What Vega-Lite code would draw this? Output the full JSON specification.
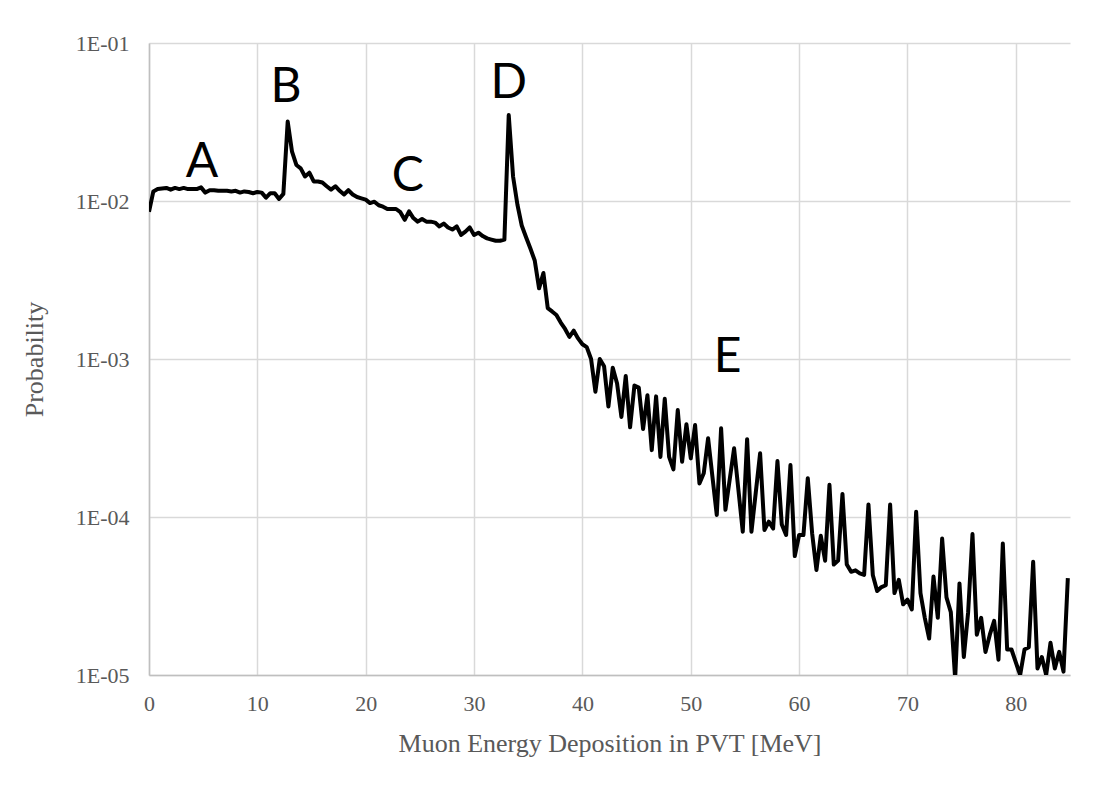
{
  "$schema": "https://vega.github.io/schema/vega-lite/v6.json",
  "width": 921,
  "height": 632,
  "autosize": {"type": "none"},
  "padding": {"left": 149, "top": 43, "right": 47, "bottom": 113},
  "background": "white",
  "config": {"view": {"stroke": null}},
  "datasets": {
    "curve": [
      {"x":0,"p":0.00855},{"x":0.4,"p":0.0115},{"x":0.8,"p":0.0119},{"x":1.2,"p":0.012},{"x":1.6,"p":0.0121},{"x":2,"p":0.0118},{"x":2.4,"p":0.0121},{"x":2.8,"p":0.0119},{"x":3.2,"p":0.0121},{"x":3.6,"p":0.0119},
      {"x":4,"p":0.0119},{"x":4.4,"p":0.0119},{"x":4.8,"p":0.0122},{"x":5.2,"p":0.0113},{"x":5.6,"p":0.0117},{"x":6,"p":0.0117},{"x":6.4,"p":0.0116},{"x":6.8,"p":0.0116},{"x":7.2,"p":0.0116},{"x":7.6,"p":0.0115},
      {"x":8,"p":0.0116},{"x":8.4,"p":0.0113},{"x":8.8,"p":0.0115},{"x":9.2,"p":0.0114},{"x":9.6,"p":0.0112},{"x":10,"p":0.0114},{"x":10.4,"p":0.0113},{"x":10.8,"p":0.0105},{"x":11.2,"p":0.0112},{"x":11.6,"p":0.0112},
      {"x":12,"p":0.0103},{"x":12.4,"p":0.0111},{"x":12.8,"p":0.0318},{"x":13.2,"p":0.0205},{"x":13.6,"p":0.0169},{"x":14,"p":0.0161},{"x":14.4,"p":0.0143},{"x":14.8,"p":0.0151},{"x":15.2,"p":0.0133},{"x":15.6,"p":0.0133},
      {"x":16,"p":0.0131},{"x":16.4,"p":0.0124},{"x":16.8,"p":0.0118},{"x":17.2,"p":0.0124},{"x":17.6,"p":0.0116},{"x":18,"p":0.011},{"x":18.4,"p":0.0117},{"x":18.8,"p":0.011},{"x":19.2,"p":0.0106},{"x":19.6,"p":0.0104},
      {"x":20,"p":0.0102},{"x":20.4,"p":0.0097},{"x":20.8,"p":0.0099},{"x":21.2,"p":0.0094},{"x":21.6,"p":0.0092},{"x":22,"p":0.0089},{"x":22.4,"p":0.0089},{"x":22.8,"p":0.0089},{"x":23.2,"p":0.0085},{"x":23.6,"p":0.0076},
      {"x":24,"p":0.0086},{"x":24.4,"p":0.0078},{"x":24.8,"p":0.0074},{"x":25.2,"p":0.0077},{"x":25.6,"p":0.0074},{"x":26,"p":0.0074},{"x":26.4,"p":0.0073},{"x":26.8,"p":0.0069},{"x":27.2,"p":0.0072},{"x":27.6,"p":0.0068},
      {"x":28,"p":0.0066},{"x":28.4,"p":0.0069},{"x":28.8,"p":0.0061},{"x":29.2,"p":0.0064},{"x":29.6,"p":0.0068},{"x":30,"p":0.0061},{"x":30.4,"p":0.0063},{"x":30.8,"p":0.006},{"x":31.2,"p":0.0058},{"x":31.6,"p":0.0057},
      {"x":32,"p":0.0056},{"x":32.4,"p":0.0056},{"x":32.8,"p":0.0057},{"x":33.2,"p":0.035},{"x":33.6,"p":0.0143},{"x":34,"p":0.0095},{"x":34.4,"p":0.007},{"x":34.8,"p":0.0059},{"x":35.2,"p":0.005},{"x":35.6,"p":0.0042},
      {"x":36,"p":0.0028},{"x":36.4,"p":0.0035},{"x":36.8,"p":0.0021},{"x":37.2,"p":0.002},{"x":37.6,"p":0.0019},{"x":38,"p":0.0017},{"x":38.4,"p":0.00155},{"x":38.8,"p":0.00138},{"x":39.2,"p":0.00151},{"x":39.6,"p":0.00135},
      {"x":40,"p":0.00124},{"x":40.4,"p":0.00119},{"x":40.8,"p":0.001},{"x":41.2,"p":0.00062},{"x":41.6,"p":0.001},{"x":42,"p":0.0009},{"x":42.4,"p":0.0005},{"x":42.8,"p":0.00088},{"x":43.2,"p":0.0007},{"x":43.6,"p":0.00043},
      {"x":44,"p":0.00078},{"x":44.4,"p":0.00037},{"x":44.8,"p":0.00068},{"x":45.2,"p":0.00066},{"x":45.6,"p":0.00036},{"x":46,"p":0.00059},{"x":46.4,"p":0.000265},{"x":46.8,"p":0.00058},{"x":47.2,"p":0.00024},{"x":47.6,"p":0.00056},
      {"x":48,"p":0.00024},{"x":48.4,"p":0.0002},{"x":48.8,"p":0.000475},{"x":49.2,"p":0.000224},{"x":49.6,"p":0.000386},{"x":50,"p":0.000235},{"x":50.4,"p":0.000382},{"x":50.8,"p":0.000163},{"x":51.2,"p":0.000189},{"x":51.6,"p":0.000315},
      {"x":52,"p":0.00018},{"x":52.4,"p":0.000103},{"x":52.8,"p":0.000364},{"x":53.2,"p":0.000111},{"x":53.6,"p":0.000174},{"x":54,"p":0.000272},{"x":54.4,"p":0.000148},{"x":54.8,"p":0.0000807},{"x":55.2,"p":0.000311},{"x":55.6,"p":0.0000807},
      {"x":56,"p":0.000143},{"x":56.4,"p":0.000253},{"x":56.8,"p":0.0000828},{"x":57.2,"p":0.0000934},{"x":57.6,"p":0.0000845},{"x":58,"p":0.000226},{"x":58.4,"p":0.0000896},{"x":58.8,"p":0.0000769},{"x":59.2,"p":0.000213},{"x":59.6,"p":0.0000566},
      {"x":60,"p":0.0000769},{"x":60.4,"p":0.0000769},{"x":60.8,"p":0.000176},{"x":61.2,"p":0.000079},{"x":61.6,"p":0.0000462},{"x":62,"p":0.000076},{"x":62.4,"p":0.0000529},{"x":62.8,"p":0.00016},{"x":63.2,"p":0.00005},{"x":63.6,"p":0.000053},
      {"x":64,"p":0.00014},{"x":64.4,"p":0.00005},{"x":64.8,"p":0.000045},{"x":65.2,"p":0.000046},{"x":65.6,"p":0.000044},{"x":66,"p":0.000043},{"x":66.4,"p":0.00012},{"x":66.8,"p":0.000043},{"x":67.2,"p":0.000034},{"x":67.6,"p":0.000036},
      {"x":68,"p":0.000037},{"x":68.4,"p":0.00012},{"x":68.8,"p":0.000033},{"x":69.2,"p":0.00004},{"x":69.6,"p":0.000028},{"x":70,"p":0.00003},{"x":70.4,"p":0.000026},{"x":70.8,"p":0.000108},{"x":71.2,"p":0.000033},{"x":71.6,"p":0.000023},
      {"x":72,"p":0.000017},{"x":72.4,"p":0.000042},{"x":72.8,"p":0.000023},{"x":73.2,"p":0.000073},{"x":73.6,"p":0.000031},{"x":74,"p":0.000025},{"x":74.4,"p":0.0000095},{"x":74.8,"p":0.000038},{"x":75.2,"p":0.000013},{"x":75.6,"p":0.000025},
      {"x":76,"p":0.000078},{"x":76.4,"p":0.000018},{"x":76.8,"p":0.000023},{"x":77.2,"p":0.000014},{"x":77.6,"p":0.000018},{"x":78,"p":0.000022},{"x":78.4,"p":0.0000125},{"x":78.8,"p":0.000068},{"x":79.2,"p":0.0000145},{"x":79.6,"p":0.0000145},
      {"x":80,"p":0.000012},{"x":80.4,"p":0.00001},{"x":80.8,"p":0.0000145},{"x":81.2,"p":0.000015},{"x":81.6,"p":0.000052},{"x":82,"p":0.000011},{"x":82.4,"p":0.000013},{"x":82.8,"p":0.00001},{"x":83.2,"p":0.000016},{"x":83.6,"p":0.000011},
      {"x":84,"p":0.000014},{"x":84.4,"p":0.0000105},{"x":84.8,"p":0.000041}
    ],
    "labels": [
      {"t":"A","x":4.89,"p":0.01419},
      {"t":"B","x":12.64,"p":0.04232},
      {"t":"C","x":23.89,"p":0.01157},
      {"t":"D","x":33.2,"p":0.04487},
      {"t":"E","x":53.4,"p":0.000828}
    ]
  },
  "layer": [
    {
      "data": {"name": "curve"},
      "mark": {"type": "line", "color": "black", "strokeWidth": 4, "clip": true, "strokeJoin": "round"},
      "encoding": {
        "x": {
          "field": "x", "type": "quantitative",
          "scale": {"domain": [0, 85], "nice": false, "zero": false},
          "axis": {
            "values": [0, 10, 20, 30, 40, 50, 60, 70, 80],
            "labelFlush": false,
            "title": "Muon Energy Deposition in PVT [MeV]",
            "titleFont": "Liberation Serif", "titleFontSize": 26, "titleFontWeight": "normal", "titleColor": "#595959", "titlePadding": 16,
            "labelFont": "Liberation Serif", "labelFontSize": 22, "labelColor": "#595959", "labelPadding": 18,
            "ticks": false, "domainColor": "#bfbfbf", "domainWidth": 1.5,
            "grid": true, "gridColor": "#d9d9d9", "gridWidth": 1.5
          }
        },
        "y": {
          "field": "p", "type": "quantitative",
          "scale": {"type": "log", "domain": [0.00001, 0.1], "nice": false},
          "axis": {
            "values": [0.00001, 0.0001, 0.001, 0.01, 0.1],
            "labelExpr": "'1E-0' + round(-log(datum.value)/LN10)",
            "title": "Probability",
            "titleFont": "Liberation Serif", "titleFontSize": 26, "titleFontWeight": "normal", "titleColor": "#595959", "titlePadding": 28,
            "labelFont": "Liberation Serif", "labelFontSize": 22, "labelColor": "#595959", "labelPadding": 20,
            "ticks": false, "domainColor": "#bfbfbf", "domainWidth": 1.5,
            "grid": true, "gridColor": "#d9d9d9", "gridWidth": 1.5
          }
        }
      }
    },
    {
      "data": {"name": "labels"},
      "mark": {"type": "text", "font": "Lato", "fontSize": 48, "color": "black", "align": "center", "baseline": "alphabetic"},
      "encoding": {
        "x": {"field": "x", "type": "quantitative"},
        "y": {"field": "p", "type": "quantitative"},
        "text": {"field": "t"}
      }
    }
  ]
}
